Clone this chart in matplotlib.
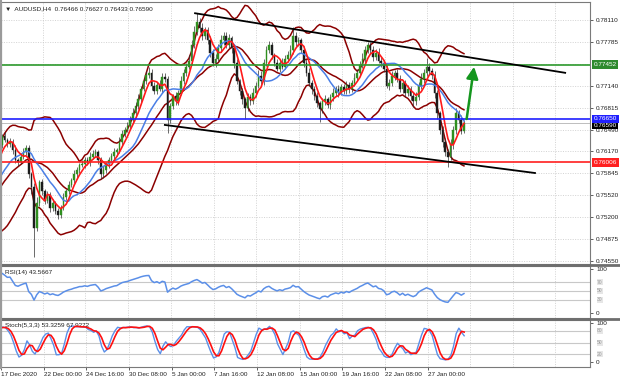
import matplotlib
matplotlib.use("Agg")
import matplotlib.pyplot as plt
from matplotlib.lines import Line2D
import matplotlib.transforms as mtransforms
import numpy as np
import pandas as pd

plt.rcParams["font.family"] = ["Liberation Sans", "DejaVu Sans"]

# H4 closes before the visible window (only used to warm up the indicators)
prior_close = [0.7512, 0.7518, 0.7508, 0.7515, 0.7522, 0.7517, 0.7510, 0.7516, 0.7524, 0.7519,
               0.7514, 0.7521, 0.7528, 0.7525, 0.7533, 0.7540, 0.7537, 0.7546, 0.7552, 0.7549,
               0.7558, 0.7566, 0.7572, 0.7580, 0.7577, 0.7588, 0.7596, 0.7605, 0.7614, 0.7626]
prior_up = [4, 5, 3, 6, 4, 5, 3, 4, 6, 5, 4, 5, 6, 4, 5, 6, 4, 5, 6, 4, 5, 6, 5, 4, 6, 5, 6, 5, 6, 7]
prior_dn = [5, 4, 6, 3, 5, 4, 6, 5, 3, 4, 6, 5, 3, 5, 4, 3, 6, 4, 5, 6, 4, 3, 5, 6, 4, 5, 3, 4, 5, 4]

# visible AUDUSD H4 closes, 17 Dec 2020 -> 28 Jan 2021
close = [0.7639, 0.7634, 0.7628, 0.7631, 0.7619, 0.7604, 0.7601, 0.7609, 0.7616, 0.7622,
         0.7583, 0.7564, 0.7504, 0.7541, 0.7571, 0.7559, 0.7544, 0.7553, 0.7534, 0.7541,
         0.7529, 0.7523, 0.7534, 0.7549, 0.7559, 0.7568, 0.7574, 0.7583, 0.7589, 0.7597,
         0.7598, 0.7604, 0.7601, 0.7609, 0.7613, 0.7616, 0.7604, 0.7583, 0.7589, 0.7598,
         0.7604, 0.7610, 0.7616, 0.7619, 0.7631, 0.7643, 0.7649, 0.7654, 0.7664, 0.7673,
         0.7684, 0.7694, 0.7709, 0.7721, 0.7730, 0.7733, 0.7714, 0.7706, 0.7715, 0.7709,
         0.7727, 0.7724, 0.7664, 0.7684, 0.7699, 0.7691, 0.7703, 0.7721, 0.7733, 0.7742,
         0.7751, 0.7774, 0.7793, 0.7808, 0.7799, 0.7787, 0.7796, 0.7781, 0.7763, 0.7748,
         0.7754, 0.7769, 0.7781, 0.7788, 0.7774, 0.7784, 0.7769, 0.7748, 0.7721, 0.7706,
         0.7694, 0.7681, 0.7697, 0.7691, 0.7703, 0.7714, 0.7729, 0.7721, 0.7748, 0.7766,
         0.7774, 0.7759, 0.7748, 0.7739, 0.7748, 0.7742, 0.7754, 0.7759, 0.7766, 0.7788,
         0.7778, 0.7781, 0.7766, 0.7748, 0.7733, 0.7718, 0.7709, 0.7699, 0.7688, 0.7679,
         0.7691, 0.7694, 0.7685, 0.7697, 0.7703, 0.7709, 0.7703, 0.7712, 0.7706, 0.7715,
         0.7709, 0.7718, 0.7725, 0.7733, 0.7745, 0.7754, 0.7766, 0.7774, 0.7766, 0.7757,
         0.7763, 0.7751, 0.7748, 0.7739, 0.7714, 0.7718, 0.7729, 0.7733, 0.7724, 0.7709,
         0.7718, 0.7703, 0.7709, 0.7699, 0.7691, 0.7697, 0.7714, 0.7724, 0.7733, 0.7742,
         0.7736, 0.7730, 0.7703, 0.7673, 0.7649, 0.7631, 0.7616, 0.7609, 0.7628, 0.7649,
         0.7673, 0.7664, 0.76466, 0.76590]

# wick lengths above / below the body, in pips
up_wick = [4, 6, 3, 5, 4, 7, 3, 5, 6, 4, 5, 3, 6, 8, 4, 5, 3, 6, 4, 5,
           3, 5, 4, 6, 3, 5, 4, 7, 5, 3, 6, 4, 5, 7, 6, 4, 3, 5, 6, 4,
           5, 4, 6, 3, 7, 5, 4, 6, 5, 8, 6, 7, 5, 4, 6, 9, 5, 6, 4, 7,
           5, 6, 4, 5, 3, 6, 4, 7, 5, 6, 8, 7, 9, 13, 6, 7, 5, 4, 6, 5,
           7, 6, 8, 5, 6, 7, 4, 5, 6, 3, 5, 4, 6, 5, 7, 5, 8, 6, 5, 7,
           6, 5, 4, 6, 5, 7, 5, 6, 8, 13, 6, 5, 4, 6, 5, 7, 4, 5, 6, 4,
           5, 6, 4, 5, 7, 5, 6, 4, 5, 6, 4, 5, 7, 6, 5, 8, 6, 5, 4, 6,
           5, 7, 6, 4, 5, 6, 7, 4, 5, 6, 4, 5, 6, 4, 5, 7, 6, 8, 6, 13,
           5, 4, 6, 5, 4, 6, 5, 4, 7, 6, 8, 5, 6, 4]
dn_wick = [4, 3, 5, 4, 6, 4, 5, 3, 4, 5, 6, 10, 43, 5, 4, 6, 5, 4, 7, 5,
           4, 6, 5, 3, 4, 5, 3, 4, 5, 4, 3, 5, 4, 6, 4, 5, 6, 7, 5, 4,
           5, 3, 4, 6, 5, 4, 5, 3, 4, 5, 6, 4, 5, 3, 4, 5, 6, 4, 5, 3,
           6, 5, 20, 5, 4, 6, 5, 3, 4, 5, 4, 6, 5, 4, 5, 6, 4, 5, 7, 5,
           6, 4, 5, 7, 5, 4, 6, 8, 5, 6, 7, 16, 5, 6, 4, 5, 3, 4, 6, 5,
           4, 6, 5, 4, 5, 3, 4, 5, 4, 5, 6, 5, 4, 6, 5, 4, 7, 6, 5, 19,
           6, 5, 4, 5, 6, 4, 5, 3, 5, 4, 6, 4, 5, 4, 3, 5, 6, 4, 5, 6,
           5, 4, 7, 5, 4, 6, 5, 7, 4, 5, 6, 5, 4, 6, 9, 5, 4, 5, 6, 4,
           5, 6, 7, 8, 6, 7, 6, 15, 5, 7, 6, 5, 4, 3]

price_ticks = [0.78110, 0.77785, 0.77140, 0.76815, 0.76490, 0.76170, 0.75845,
               0.75520, 0.75200, 0.74875, 0.74550]
date_labels = ["17 Dec 2020", "22 Dec 00:00", "24 Dec 16:00", "30 Dec 08:00", "5 Jan 00:00",
               "7 Jan 16:00", "12 Jan 08:00", "15 Jan 00:00", "19 Jan 16:00", "22 Jan 08:00",
               "27 Jan 00:00"]
bars_per_label = 16

support = 0.76006
pivot = 0.76650
resistance = 0.77452
bid = 0.76590
# drawn objects (bar index, price)
upper_channel = [(72.3, 0.7821), (210.9, 0.7733)]
lower_channel = [(61.0, 0.7656), (199.6, 0.7585)]
arrow_from = (174.0, 0.76648)
arrow_to = (176.8, 0.77420)

W, H = 620, 382
FS = 4.6


def box(left, top, right, bottom):
    return [left / W, 1 - bottom / H, (right - left) / W, (bottom - top) / H]


n_prior = len(prior_close)
c_all = pd.Series(prior_close + close)
o_all = c_all.shift(1).bfill()
uw = np.array(prior_up + up_wick) * 0.0001
dw = np.array(prior_dn + dn_wick) * 0.0001
h_all = pd.Series(np.maximum(o_all, c_all) + uw)
l_all = pd.Series(np.minimum(o_all, c_all) - dw)
x_all = np.arange(len(c_all)) - n_prior

# indicators
ma_fast = c_all.rolling(5).mean()
ma_slow = c_all.rolling(14).mean()
bb_mid = c_all.rolling(20).mean()
bb_sd = c_all.rolling(20).std(ddof=0)
bb_up = bb_mid + 2 * bb_sd
bb_lo = bb_mid - 2 * bb_sd

delta = c_all.diff()
gain = delta.clip(lower=0).ewm(alpha=1 / 14, adjust=False).mean()
loss = (-delta.clip(upper=0)).ewm(alpha=1 / 14, adjust=False).mean()
rsi = 100 - 100 / (1 + gain / loss)

hh = h_all.rolling(5).max()
ll = l_all.rolling(5).min()
st_main = 100 * (c_all - ll).rolling(3).sum() / (hh - ll).rolling(3).sum()
st_sig = st_main.rolling(3).mean()

xmin, xmax = -0.37, 220.2
fig = plt.figure(figsize=(W / 100, H / 100), dpi=100)
fig.patch.set_facecolor("white")

ax = fig.add_axes(box(1, 2, 590, 264))
ax_rsi = fig.add_axes(box(1, 266, 590, 318))
ax_st = fig.add_axes(box(1, 320, 590, 367))

grid_kw = dict(color="#c4c4c4", lw=0.5, ls=(0, (1.5, 2)))
vgrid = np.arange(0, 221, bars_per_label)
for a in (ax, ax_rsi, ax_st):
    a.set_xlim(xmin, xmax)
    for v in vgrid:
        a.axvline(v - 0.75, zorder=0, **grid_kw)
    for s in a.spines.values():
        s.set_color("#7a7a7a")
        s.set_linewidth(0.8)
    a.tick_params(axis="x", bottom=False, labelbottom=False)
    a.yaxis.tick_right()
    a.tick_params(axis="y", labelsize=FS, length=2, width=0.5, pad=2.5, colors="#202020")

# --- main price panel
ax.set_ylim(0.74506, 0.78376)
ax.set_yticks(price_ticks)
ax.set_yticklabels([f"{p:.5f}" for p in price_ticks])
for p in price_ticks + [0.77465]:
    ax.axhline(p, zorder=0, **grid_kw)

ax.plot(x_all, bb_up, color="#8b0000", lw=1.1, zorder=2)
ax.plot(x_all, bb_mid, color="#8b0000", lw=1.1, zorder=2)
ax.plot(x_all, bb_lo, color="#8b0000", lw=1.1, zorder=2)

vis = x_all >= 0
xv = x_all[vis]
ov, cv, hv, lv = o_all[vis].values, c_all[vis].values, h_all[vis].values, l_all[vis].values
bull = cv >= ov
ax.vlines(xv, lv, hv, color="#303030", lw=0.5, zorder=3)
ax.bar(xv, cv - ov, bottom=ov, width=0.62,
       color=np.where(bull, "#2f8f1f", "#1c1c1c"),
       edgecolor=np.where(bull, "#2f8f1f", "#1c1c1c"), linewidth=0.3, zorder=4)

ax.plot(x_all, ma_slow, color="#4a7fe6", lw=1.1, zorder=5)
ax.plot(x_all, ma_fast, color="#ff1a1a", lw=1.2, zorder=6)

ax.axhline(resistance, color="#2e9a2e", lw=1.2, zorder=7)
ax.axhline(pivot, color="#1f1fff", lw=1.2, zorder=7)
ax.axhline(support, color="#ff1f1f", lw=1.2, zorder=7)
ax.axhline(bid, color="#bdbdbd", lw=0.7, zorder=1)

for line in (upper_channel, lower_channel):
    ax.plot([line[0][0], line[1][0]], [line[0][1], line[1][1]], color="black", lw=1.3, zorder=8)
ax.annotate("", xy=arrow_to, xytext=arrow_from,
            arrowprops=dict(arrowstyle="-|>,head_length=0.7,head_width=0.35",
                            color="#14961e", lw=1.8, shrinkA=0, shrinkB=0), zorder=9)

trans = mtransforms.blended_transform_factory(ax.transAxes, ax.transData)
for val, fc in ((resistance, "#2e8b2e"), (pivot, "#1f1fff"), (support, "#ff2020")):
    ax.text(1.006, val, f"{val:.5f}", transform=trans, fontsize=FS, color="white", va="center",
            ha="left", bbox=dict(boxstyle="square,pad=0.25", fc=fc, ec="none"), zorder=10, clip_on=False)
ax.text(1.006, bid - 0.0004, f"{bid:.5f}", transform=trans, fontsize=FS, color="white",
        va="center", ha="left", bbox=dict(boxstyle="square,pad=0.2", fc="black", ec="none"),
        zorder=9, clip_on=False)

ax.text(0.006, 0.985, "\u25bc  AUDUSD,H4  0.76466 0.76627 0.76433 0.76590", transform=ax.transAxes,
        fontsize=FS, va="top", ha="left", color="#202020")

# --- RSI panel
ax_rsi.set_ylim(-11.4, 106.8)
ax_rsi.set_yticks([100, 0])
ax_rsi.set_yticklabels(["100", "0"])
for lev in (70, 50, 30):
    ax_rsi.axhline(lev, color="#c8c8c8", lw=0.8, zorder=1)
ax_rsi.plot(x_all, rsi, color="#5b8fe8", lw=1.1, zorder=3)
ax_rsi.text(0.006, 0.93, "RSI(14) 43.5667", transform=ax_rsi.transAxes, fontsize=FS,
            va="top", ha="left", color="#202020")

# --- Stochastic panel
ax_st.set_ylim(-12.8, 107.7)
ax_st.set_yticks([100, 0])
ax_st.set_yticklabels(["100", "0"])
for lev in (80, 50, 20):
    ax_st.axhline(lev, color="#c8c8c8", lw=0.8, zorder=1)
ax_st.plot(x_all, st_main, color="#5b8fe8", lw=1.0, zorder=3)
ax_st.plot(x_all, st_sig, color="#ff1010", lw=1.2, zorder=4)
ax_st.text(0.006, 0.93, "Stoch(5,3,3) 53.3259 67.9272", transform=ax_st.transAxes, fontsize=FS,
           va="top", ha="left", color="#202020")

# level boxes on the right of the oscillators
for a, levels in ((ax_rsi, (70, 50, 30)), (ax_st, (80, 50, 20))):
    t = mtransforms.blended_transform_factory(a.transAxes, a.transData)
    for lev in levels:
        a.text(1.012, lev, str(lev), transform=t, fontsize=3.6, color="#9a9a9a", va="center",
               ha="left", bbox=dict(boxstyle="square,pad=0.1", fc="#e6e6e6", ec="none"), clip_on=False)

ax_st.tick_params(axis="x", bottom=True, labelbottom=True, length=2, width=0.5, pad=1.5,
                  labelsize=FS, colors="#202020")
ax_st.set_xticks(np.arange(len(date_labels)) * bars_per_label - 0.75)
ax_st.set_xticklabels(date_labels, ha="left")

# thick panel separators, like the terminal window
for yy in (265, 319):
    fig.add_artist(Line2D([0, 1], [1 - yy / H] * 2, color="#6e6e6e", lw=2.0))
fig.add_artist(Line2D([1 / W, 1 / W], [1 - 368 / H, 1], color="#9a9a9a", lw=1.5))

fig.savefig("out.png", dpi=100)
